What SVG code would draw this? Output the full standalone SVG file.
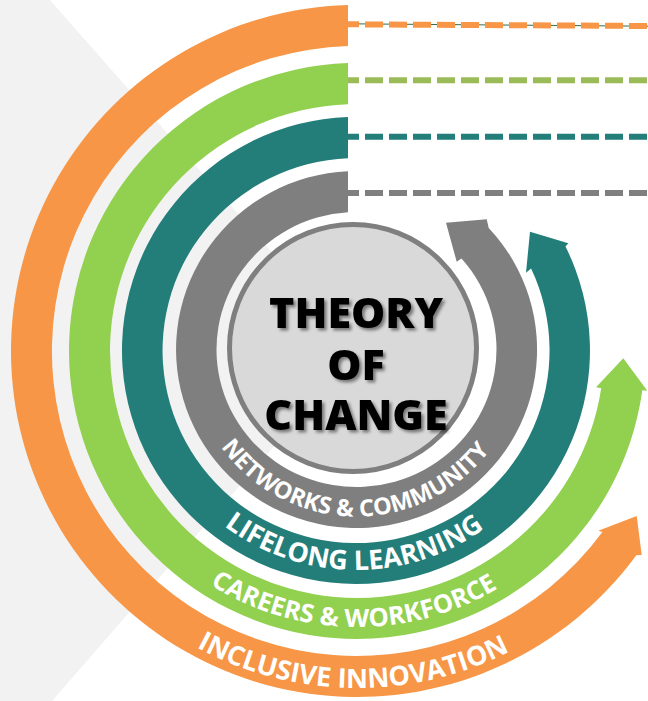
<svg xmlns="http://www.w3.org/2000/svg" width="648" height="701" viewBox="0 0 648 701">
  <style>
    .lbl { font-family: "Open Sans", "Liberation Sans", sans-serif; fill: #ffffff; font-weight: 700; }
    .title { font-family: "Open Sans", "Liberation Sans", sans-serif; font-weight: 800; font-size: 43px; fill: #000000; text-anchor: middle; }
    .dash { fill: none; stroke-width: 6; stroke-dasharray: 18 6; stroke-dashoffset: 7; }
  </style>
  <defs>
    <filter id="shadow" x="-20%" y="-20%" width="140%" height="140%">
      <feDropShadow dx="2.5" dy="2.5" stdDeviation="1.6" flood-color="#000000" flood-opacity="0.45"/>
    </filter>
    <path id="tp-gray" d="M 189.5,349.5 A 167 167 0 0 0 523.5,349.5"/>
    <path id="tp-teal" d="M 136.5,350.5 A 219.5 219.5 0 0 0 575.5,350.5"/>
    <path id="tp-green" d="M 81,351 A 276 276 0 0 0 633,351"/>
    <path id="tp-orange" d="M 20,351 A 337 337 0 0 0 694,351"/>
  </defs>

  <rect x="0" y="0" width="648" height="701" fill="#ffffff"/>
  <polygon points="0,0 50,0 358,350 52,701 0,701" fill="#f2f2f2"/>

  <g id="connectors">
    <line x1="348" y1="23.8" x2="648" y2="26.2" stroke="#3b6a48" stroke-width="1"/>
    <line class="dash" x1="348" y1="24.3" x2="648" y2="26" stroke="#f79646"/>
    <line class="dash" x1="348" y1="80.3" x2="648" y2="80.3" stroke="#9bbb59"/>
    <line class="dash" x1="348" y1="136.8" x2="648" y2="136.8" stroke="#237e7a"/>
    <line class="dash" x1="348" y1="193" x2="648" y2="193" stroke="#7f7f7f"/>
  </g>

  <g id="ring-orange">
    <path fill="#f79646" d="M 348,5.1 A 346 346 0 1 0 636.3,555.2 L 641.7,555 L 636.7,516 L 598.3,530.7 L 602.4,532 A 305 305 0 1 1 348,46.1 Z"/>
    <text class="lbl" font-size="27" text-anchor="middle"><textPath href="#tp-orange" startOffset="49.6%">INCLUSIVE INNOVATION</textPath></text>
  </g>

  <g id="ring-green">
    <path fill="#92d050" d="M 348,63.1 A 288 288 0 1 0 642.3,390.3 L 647.3,390.7 L 623.3,358.3 L 596,387.3 L 601.2,388.2 A 247 247 0 1 1 348,104.2 Z"/>
    <text class="lbl" font-size="25.5" text-anchor="middle"><textPath href="#tp-green" startOffset="49.6%">CAREERS &amp; WORKFORCE</textPath></text>
  </g>

  <g id="ring-teal">
    <path fill="#237e7a" d="M 348,117.1 A 234 233.5 0 1 0 565.5,246.5 L 568.3,243.3 L 530,231.7 L 526,272.7 L 531.1,268.5 A 193.5 192.5 0 1 1 348,158.2 Z"/>
    <text class="lbl" font-size="27" text-anchor="middle"><textPath href="#tp-teal" startOffset="49.7%">LIFELONG LEARNING</textPath></text>
  </g>

  <g id="ring-gray">
    <path fill="#7f7f7f" d="M 348,171.2 A 180.5 178.5 0 1 0 488.7,227.9 L 486.7,219.3 L 446,222.7 L 456.7,261.7 L 461.5,258.6 A 140 137.5 0 1 1 348,212.3 Z"/>
    <text class="lbl" font-size="23.5" text-anchor="middle"><textPath href="#tp-gray" startOffset="49.6%">NETWORKS &amp; COMMUNITY</textPath></text>
  </g>

  <g id="center">
    <circle cx="353" cy="348" r="123.5" fill="#d9d9d9" stroke="#7f7f7f" stroke-width="5"/>
    <g filter="url(#shadow)">
      <text class="title" x="356" y="328">THEORY</text>
      <text class="title" x="356" y="380">OF</text>
      <text class="title" x="356" y="430">CHANGE</text>
    </g>
  </g>
</svg>
